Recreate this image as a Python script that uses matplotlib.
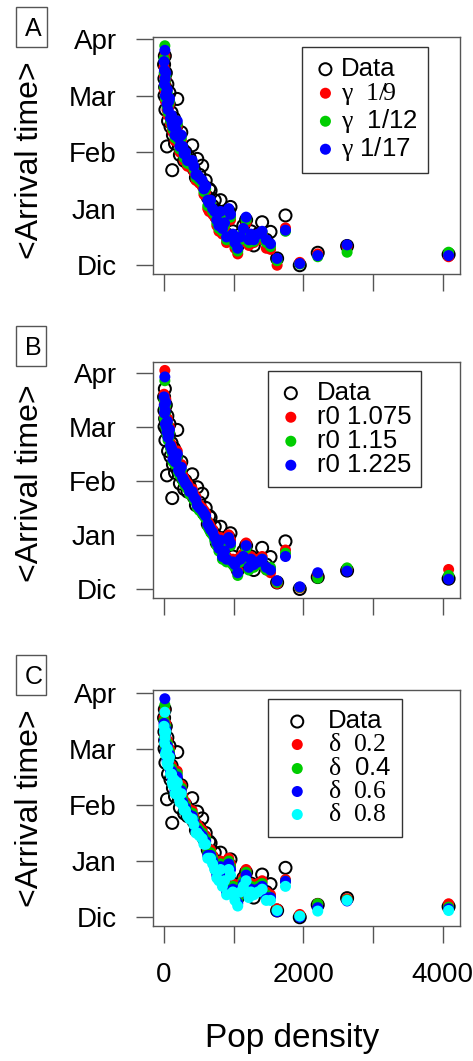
import matplotlib
matplotlib.use('Agg')
import matplotlib.pyplot as plt
from matplotlib.patches import Rectangle

plt.rcParams['font.family'] = ['Liberation Sans', 'DejaVu Sans']
plt.rcParams['mathtext.fontset'] = 'custom'
plt.rcParams['mathtext.rm'] = 'Liberation Serif'
plt.rcParams['mathtext.it'] = 'Liberation Serif:italic'

# population density of each province (same for every panel)
pop = [3, 8, 10, 14, 18, 22, 28, 35, 45, 50,
       60, 70, 80, 95, 110, 120, 130, 145, 160, 175,
       192, 210, 230, 250, 270, 290, 310, 340, 370, 407,
       430, 460, 479, 510, 550, 575, 600, 630, 650, 670,
       700, 730, 760, 790, 813, 840, 870, 900, 930, 956,
       990, 1020, 1060, 1100, 1140, 1180, 1220, 1250, 1290, 1350,
       1410, 1470, 1530, 1625, 1745, 1950, 2208, 2629, 4086]

# observed arrival time, in months after December (Dic=0 ... Apr=4)
data = [3.55, 3.30, 3.00, 3.70, 3.15, 2.75, 3.40, 2.95, 2.10, 3.20,
        2.55, 2.85, 3.05, 2.45, 2.70, 1.68, 2.30, 2.60, 2.15, 2.45,
        2.94, 2.20, 1.95, 2.35, 2.05, 1.85, 2.00, 1.80, 1.90, 2.12,
        1.70, 1.55, 1.88, 1.60, 1.76, 1.40, 1.50, 1.20, 1.35, 1.32,
        1.05, 1.15, 0.85, 0.95, 1.15, 0.70, 0.80, 0.55, 0.95, 1.03,
        0.60, 0.45, 0.35, 0.55, 0.70, 0.80, 0.45, 0.60, 0.35, 0.55,
        0.76, 0.45, 0.59, 0.12, 0.88, 0.00, 0.22, 0.34, 0.19]

# panel A: gamma
gam_9 = [3.50, 3.35, 3.10, 3.70, 3.20, 2.90, 3.30, 2.95, 2.75, 3.00,
         2.65, 2.80, 2.85, 2.50, 2.55, 2.40, 2.35, 2.45, 2.20, 2.30,
         2.45, 2.15, 2.00, 2.20, 2.00, 1.85, 1.90, 1.75, 1.75, 1.75,
         1.65, 1.50, 1.50, 1.45, 1.40, 1.25, 1.30, 1.00, 0.95, 1.05,
         0.90, 0.85, 0.70, 0.60, 0.85, 0.55, 0.65, 0.40, 0.90, 0.80,
         0.45, 0.30, 0.20, 0.40, 0.55, 0.75, 0.35, 0.45, 0.40, 0.45,
         0.55, 0.30, 0.28, 0.00, 0.66, 0.05, 0.20, 0.33, 0.15]
gam_12 = [3.65, 3.40, 3.15, 3.88, 3.25, 2.95, 3.35, 3.00, 2.80, 3.05,
          2.70, 2.85, 2.90, 2.55, 2.60, 2.45, 2.40, 2.50, 2.25, 2.35,
          2.50, 2.20, 2.05, 2.25, 2.05, 1.90, 1.95, 1.80, 1.80, 1.80,
          1.70, 1.55, 1.55, 1.50, 1.45, 1.30, 1.35, 1.05, 1.05, 1.10,
          0.95, 0.90, 0.75, 0.65, 0.90, 0.60, 0.70, 0.45, 0.95, 0.85,
          0.50, 0.35, 0.25, 0.45, 0.60, 0.80, 0.40, 0.50, 0.42, 0.50,
          0.58, 0.40, 0.33, 0.08, 0.60, 0.02, 0.15, 0.23, 0.23]
gam_17 = [3.60, 3.45, 3.20, 3.80, 3.30, 3.00, 3.40, 3.05, 2.85, 3.10,
          2.75, 2.90, 2.95, 2.60, 2.65, 2.50, 2.45, 2.55, 2.30, 2.40,
          2.55, 2.25, 2.10, 2.30, 2.10, 1.97, 2.00, 1.85, 1.85, 1.85,
          1.75, 1.60, 1.60, 1.55, 1.50, 1.35, 1.40, 1.15, 1.10, 1.15,
          1.00, 0.95, 0.80, 0.70, 0.95, 0.65, 0.75, 0.50, 1.00, 0.90,
          0.55, 0.40, 0.30, 0.50, 0.65, 0.85, 0.45, 0.55, 0.45, 0.55,
          0.60, 0.45, 0.38, 0.12, 0.62, 0.03, 0.17, 0.36, 0.17]

# panel B: r0
r0_1075 = [3.60, 3.45, 3.20, 4.04, 3.35, 3.10, 3.50, 3.05, 2.95, 3.15,
           2.85, 2.90, 3.00, 2.70, 2.65, 2.60, 2.45, 2.55, 2.40, 2.45,
           2.55, 2.25, 2.20, 2.30, 2.10, 2.05, 2.00, 1.95, 1.85, 1.85,
           1.75, 1.70, 1.60, 1.55, 1.50, 1.45, 1.40, 1.25, 1.20, 1.15,
           1.10, 1.00, 0.90, 0.80, 0.95, 0.65, 0.75, 0.60, 1.00, 0.90,
           0.55, 0.50, 0.35, 0.60, 0.65, 0.85, 0.45, 0.60, 0.50, 0.55,
           0.60, 0.35, 0.30, 0.10, 0.72, 0.02, 0.24, 0.36, 0.36]
r0_115 = [3.50, 3.35, 3.15, 3.85, 3.25, 3.00, 3.40, 2.95, 2.85, 3.05,
          2.75, 2.80, 2.90, 2.60, 2.55, 2.50, 2.35, 2.45, 2.30, 2.35,
          2.45, 2.15, 2.10, 2.20, 2.00, 1.95, 1.90, 1.85, 1.75, 1.75,
          1.65, 1.60, 1.50, 1.45, 1.40, 1.35, 1.30, 1.15, 1.10, 1.05,
          1.00, 0.90, 0.80, 0.70, 0.85, 0.55, 0.65, 0.50, 0.90, 0.80,
          0.45, 0.40, 0.25, 0.50, 0.55, 0.75, 0.35, 0.50, 0.40, 0.45,
          0.55, 0.35, 0.40, 0.12, 0.66, 0.03, 0.20, 0.39, 0.25]
r0_1225 = [3.55, 3.40, 3.25, 3.92, 3.30, 3.05, 3.45, 3.00, 2.90, 3.10,
           2.80, 2.85, 2.95, 2.65, 2.60, 2.55, 2.40, 2.50, 2.35, 2.40,
           2.50, 2.20, 2.15, 2.25, 2.05, 2.00, 1.95, 1.90, 1.80, 1.80,
           1.70, 1.65, 1.55, 1.50, 1.45, 1.40, 1.35, 1.20, 1.15, 1.10,
           1.05, 0.95, 0.85, 0.75, 0.90, 0.60, 0.70, 0.55, 0.95, 0.85,
           0.50, 0.45, 0.30, 0.55, 0.60, 0.80, 0.40, 0.55, 0.45, 0.50,
           0.55, 0.40, 0.35, 0.15, 0.60, 0.04, 0.30, 0.33, 0.18]

# panel C: delta
d_02 = [3.55, 3.45, 3.25, 3.70, 3.35, 3.05, 3.45, 3.10, 2.90, 3.15,
        2.85, 2.95, 3.00, 2.70, 2.70, 2.55, 2.50, 2.60, 2.35, 2.45,
        2.60, 2.30, 2.20, 2.35, 2.15, 2.05, 2.05, 1.95, 1.90, 1.90,
        1.80, 1.65, 1.65, 1.60, 1.55, 1.45, 1.45, 1.20, 1.20, 1.20,
        1.10, 1.00, 0.85, 0.80, 1.00, 0.70, 0.80, 0.55, 1.05, 0.95,
        0.60, 0.45, 0.35, 0.60, 0.70, 0.85, 0.50, 0.60, 0.55, 0.60,
        0.65, 0.45, 0.40, 0.15, 0.67, 0.05, 0.24, 0.33, 0.24]
d_04 = [3.50, 3.40, 3.20, 3.78, 3.30, 3.00, 3.40, 3.05, 2.85, 3.10,
        2.80, 2.90, 2.95, 2.65, 2.65, 2.50, 2.45, 2.55, 2.30, 2.40,
        2.55, 2.25, 2.15, 2.30, 2.10, 2.00, 2.00, 1.90, 1.85, 1.85,
        1.75, 1.60, 1.60, 1.55, 1.50, 1.40, 1.40, 1.15, 1.15, 1.15,
        1.05, 0.95, 0.80, 0.75, 0.95, 0.65, 0.75, 0.50, 1.00, 0.90,
        0.55, 0.40, 0.30, 0.55, 0.65, 0.80, 0.45, 0.55, 0.50, 0.55,
        0.60, 0.40, 0.35, 0.12, 0.64, 0.02, 0.24, 0.31, 0.18]
d_06 = [3.45, 3.35, 3.15, 3.89, 3.25, 2.95, 3.35, 3.00, 2.80, 3.05,
        2.75, 2.85, 2.90, 2.60, 2.60, 2.45, 2.40, 2.50, 2.25, 2.35,
        2.50, 2.20, 2.10, 2.25, 2.05, 1.95, 1.95, 1.85, 1.80, 1.80,
        1.70, 1.55, 1.55, 1.50, 1.45, 1.35, 1.35, 1.10, 1.10, 1.10,
        1.00, 0.90, 0.75, 0.70, 0.90, 0.60, 0.70, 0.45, 0.95, 0.85,
        0.50, 0.35, 0.25, 0.50, 0.60, 0.75, 0.40, 0.50, 0.45, 0.50,
        0.55, 0.35, 0.35, 0.10, 0.64, 0.00, 0.17, 0.29, 0.15]
d_08 = [3.40, 3.30, 3.10, 3.65, 3.20, 2.90, 3.30, 2.95, 2.75, 3.00,
        2.70, 2.80, 2.85, 2.55, 2.55, 2.40, 2.35, 2.45, 2.20, 2.30,
        2.40, 2.15, 2.05, 2.20, 2.00, 1.90, 1.90, 1.80, 1.75, 1.75,
        1.65, 1.50, 1.50, 1.45, 1.40, 1.30, 1.30, 1.05, 1.05, 1.05,
        0.95, 0.85, 0.70, 0.65, 0.85, 0.55, 0.65, 0.40, 0.85, 0.75,
        0.45, 0.30, 0.20, 0.45, 0.55, 0.65, 0.35, 0.45, 0.40, 0.45,
        0.50, 0.30, 0.30, 0.12, 0.55, 0.02, 0.11, 0.30, 0.12]

months = ['Dic', 'Jan', 'Feb', 'Mar', 'Apr']
xticks = [0, 1000, 2000, 3000, 4000]

RED, GREEN, BLUE, CYAN = '#FF0000', '#00CD00', '#0000FF', '#00FFFF'
W, H = 473, 1061
GRAY = '#555555'


def fx(px):
    return px / W


def fy(py):
    return 1 - py / H


fig = plt.figure(figsize=(W / 100, H / 100), dpi=100)

panels = [
    dict(letter='A', box=(37, 274), lbox=(16, 6.7, 46.7, 46.7), lbase=36, ylab=160,
         series=[(gam_9, RED, r'$\mathrm{γ}$  1/9', 'Liberation Serif'),
                 (gam_12, GREEN, r'$\mathrm{γ}$  1/12', 'Liberation Sans'),
                 (gam_17, BLUE, r'$\mathrm{γ}$ 1/17', 'Liberation Sans')],
         leg=(302.3, 46.7), bpad=0.4, hlen=1.0, htp=0.1),
    dict(letter='B', box=(361.7, 597.7), lbox=(16, 326, 46, 365.7), lbase=355, ylab=482.7,
         series=[(r0_1075, RED, 'r0 1.075', 'Liberation Sans'),
                 (r0_115, GREEN, 'r0 1.15', 'Liberation Sans'),
                 (r0_1225, BLUE, 'r0 1.225', 'Liberation Sans')],
         leg=(267.7, 370.7), bpad=0.4, hlen=1.0, htp=0.5),
    dict(letter='C', box=(690, 926), lbox=(16, 655, 46, 695), lbase=684, ylab=808.5,
         series=[(d_02, RED, r'$\mathrm{δ}$  0.2', 'Liberation Serif'),
                 (d_04, GREEN, r'$\mathrm{δ}$  0.4', 'Liberation Sans'),
                 (d_06, BLUE, r'$\mathrm{δ}$  0.6', 'Liberation Serif'),
                 (d_08, CYAN, r'$\mathrm{δ}$  0.8', 'Liberation Serif')],
         leg=(267.7, 699), bpad=0.4, hlen=1.5, htp=0.45),
]

for i, p in enumerate(panels):
    top, bot = p['box']
    ax = fig.add_axes([fx(152.7), fy(bot), fx(460 - 152.7), (bot - top) / H])
    handles = []
    labels = []
    h = ax.scatter(pop, data, s=75, facecolors='none', edgecolors='black', linewidths=1.45, zorder=2)
    handles.append(h)
    labels.append('Data')
    for vals, col, lab, fam in p['series']:
        h = ax.scatter(pop, vals, s=63, color=col, edgecolors='none', zorder=3)
        handles.append(h)
        labels.append(lab)
    ax.margins(0.04)

    ax.set_yticks(range(5))
    ax.set_yticklabels(months, fontsize=20)
    ax.set_xticks(xticks)
    if i == 2:
        ax.set_xticklabels(['0', '', '2000', '', '4000'], fontsize=20)
    else:
        ax.set_xticklabels([])
    ax.tick_params(length=12, width=1.0, color=GRAY, pad=14)
    for sp in ax.spines.values():
        sp.set_color(GRAY)
        sp.set_linewidth(1.0)

    lx, ly = p['leg']
    leg = ax.legend(handles, labels, loc='upper left',
                    bbox_to_anchor=((lx - 152.7) / 307.3, (bot - ly) / (bot - top)),
                    borderaxespad=0, fontsize=18.5, scatterpoints=1,
                    borderpad=p['bpad'], handlelength=p['hlen'], handletextpad=p['htp'],
                    labelspacing=0.0, fancybox=False, framealpha=1, edgecolor='#333333')
    leg.get_frame().set_linewidth(1.0)
    for t, (vals, col, lab, fam) in zip(leg.get_texts()[1:], p['series']):
        t.set_family(fam)

    fig.text(fx(30), fy(p['ylab']), '<Arrival time>', rotation=90, ha='center', va='center', fontsize=23)

    x0, y0, x1, y1 = p['lbox']
    fig.patches.append(Rectangle((fx(x0), fy(y1)), (x1 - x0) / W, (y1 - y0) / H,
                                 transform=fig.transFigure, fill=False, edgecolor=GRAY, linewidth=1.0))
    fig.text(fx(33.5), fy(p['lbase']), p['letter'], ha='center', va='baseline', fontsize=18)

fig.text(fx(292), fy(1038), 'Pop density', ha='center', va='center', fontsize=24)

fig.savefig('out.png', dpi=100)
